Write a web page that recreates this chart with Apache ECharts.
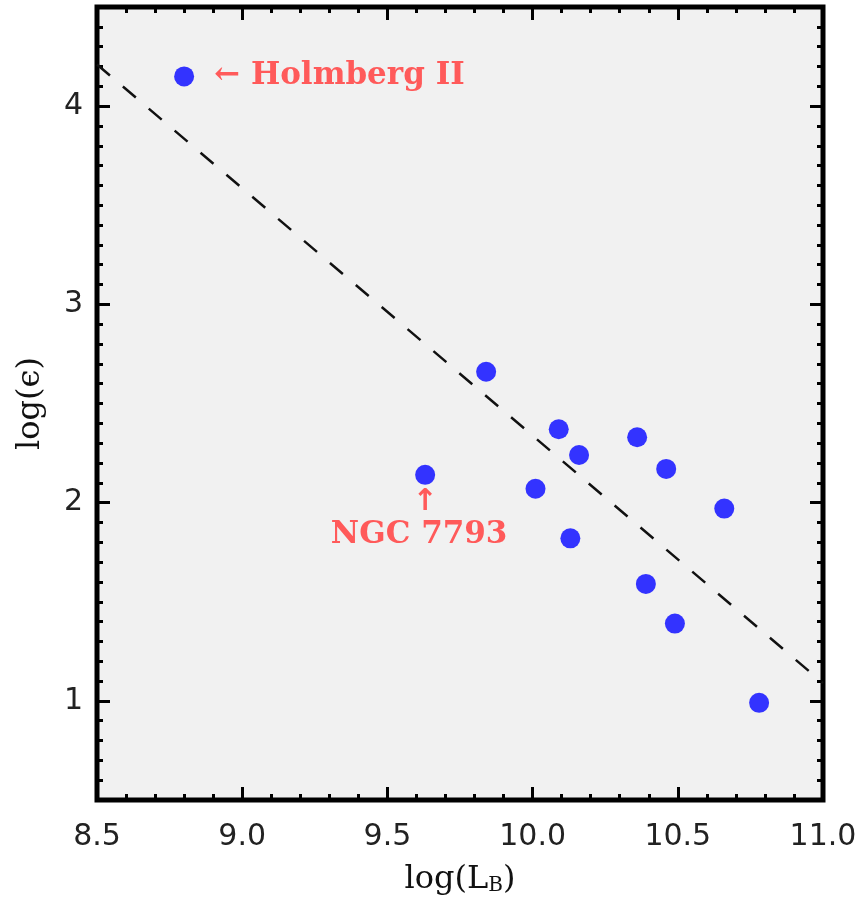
<!DOCTYPE html>
<html>
<head>
<meta charset="utf-8">
<script src="https://cdn.jsdelivr.net/npm/echarts@6/dist/echarts.min.js"></script>
<style>
html,body{margin:0;padding:0;background:#fff;}
#chart{width:861px;height:901px;}
</style>
</head>
<body>
<div id="chart"></div>
<script>
// Data
var galaxyLogL = [8.80, 9.63, 9.84, 10.01, 10.09, 10.13, 10.16, 10.36, 10.39, 10.46, 10.49, 10.66, 10.78];
var galaxyLogE = [4.15, 2.14, 2.66, 2.07, 2.37, 1.82, 2.24, 2.33, 1.59, 2.17, 1.39, 1.97, 0.99];
var galaxyNotes = ['Holmberg II', 'NGC 7793', '', '', '', '', '', '', '', '', '', '', ''];
var fitLogL = [8.5, 11.0];
var fitLogE = [4.21, 1.09];
var yMajorTicks = [1, 2, 3, 4];
var yMinorTicks = [0.6,0.7,0.8,0.9,1.1,1.2,1.3,1.4,1.5,1.6,1.7,1.8,1.9,2.1,2.2,2.3,2.4,2.5,2.6,2.7,2.8,2.9,3.1,3.2,3.3,3.4,3.5,3.6,3.7,3.8,3.9,4.1,4.2,4.3,4.4];
var xAxisTitle = 'log(L';
var xAxisSub = 'B';
var yAxisTitle = 'log(\u03F5)';

var red = '#ff5a5a';
var noteFont = 'DejaVu Serif';

var scatterData = galaxyLogL.map(function (x, i) {
  var item = { value: [x, galaxyLogE[i]] };
  if (galaxyNotes[i] && i === 0) {
    item.label = {
      show: true, position: 'right', distance: 20,
      formatter: '\u2190 ' + galaxyNotes[i],
      color: red, fontFamily: noteFont, fontWeight: 'bold', fontSize: 31
    };
  } else if (galaxyNotes[i]) {
    item.label = {
      show: true, position: 'bottom', distance: 2,
      formatter: '{a|\u2191}\n{b|' + galaxyNotes[i] + '}',
      rich: {
        a: { color: red, fontFamily: 'DejaVu Sans', fontWeight: 'bold', fontSize: 30, lineHeight: 30, align: 'center' },
        b: { color: red, fontFamily: noteFont, fontWeight: 'bold', fontSize: 31, lineHeight: 36, align: 'center', padding: [0, 12, 0, 0] }
      }
    };
  }
  return item;
});

var fitData = fitLogL.map(function (x, i) { return [x, fitLogE[i]]; });

var tickLabelStyle = { fontFamily: 'DejaVu Sans', fontSize: 30, color: '#222' };

function xAxisCfg(pos, showLabel) {
  return {
    type: 'value', position: pos, min: 8.5, max: 11.0, interval: 0.5,
    axisLine: { show: false },
    splitLine: { show: false },
    axisTick: { show: true, inside: true, length: 13, lineStyle: { color: '#000', width: 3 } },
    minorTick: { show: true, splitNumber: 5, length: 6, lineStyle: { color: '#000', width: 3 } },
    minorSplitLine: { show: false },
    axisLabel: Object.assign({ show: showLabel, margin: 22, formatter: function (v) { return v.toFixed(1); } }, tickLabelStyle),
    name: showLabel ? '{a|' + xAxisTitle + '}{b|' + xAxisSub + '}{a|)}' : '',
    nameLocation: 'middle', nameGap: 58,
    nameTextStyle: {
      rich: {
        a: { fontFamily: 'DejaVu Serif', fontSize: 32, color: '#111', lineHeight: 38, verticalAlign: 'bottom' },
        b: { fontFamily: 'DejaVu Serif', fontSize: 20, color: '#111', lineHeight: 8, verticalAlign: 'bottom' }
      }
    }
  };
}

function yAxisCfg(pos, values, len, showLabel) {
  return {
    type: 'value', position: pos, min: 0.5, max: 4.5,
    axisLine: { show: false },
    splitLine: { show: false },
    axisTick: { show: true, inside: true, length: len, customValues: values, lineStyle: { color: '#000', width: 3 } },
    axisLabel: Object.assign({ show: showLabel, margin: 14, customValues: yMajorTicks }, tickLabelStyle),
    name: showLabel ? yAxisTitle : '',
    nameLocation: 'middle', nameGap: 50, nameRotate: 90,
    nameTextStyle: { fontFamily: 'DejaVu Serif', fontSize: 32, color: '#111' }
  };
}

var chart = echarts.init(document.getElementById('chart'), null, { renderer: 'canvas' });
chart.setOption({
  animation: false,
  backgroundColor: '#ffffff',
  grid: {
    left: 97, right: 38, top: 7, bottom: 99,
    show: true, backgroundColor: '#f1f1f1', borderColor: '#000', borderWidth: 5
  },
  xAxis: [xAxisCfg('bottom', true), xAxisCfg('top', false)],
  yAxis: [
    yAxisCfg('left', yMajorTicks, 13, true),
    yAxisCfg('left', yMinorTicks, 6, false),
    yAxisCfg('right', yMajorTicks, 13, false),
    yAxisCfg('right', yMinorTicks, 6, false)
  ],
  series: [
    {
      type: 'line', xAxisIndex: 0, yAxisIndex: 0, data: fitData,
      symbol: 'none', silent: true,
      lineStyle: { color: '#111', width: 2.5, type: [17, 17] }
    },
    {
      type: 'scatter', xAxisIndex: 0, yAxisIndex: 0, data: scatterData,
      symbol: 'circle', symbolSize: 20,
      itemStyle: { color: '#3333ff', opacity: 1 }
    }
  ]
});
</script>
</body>
</html>
